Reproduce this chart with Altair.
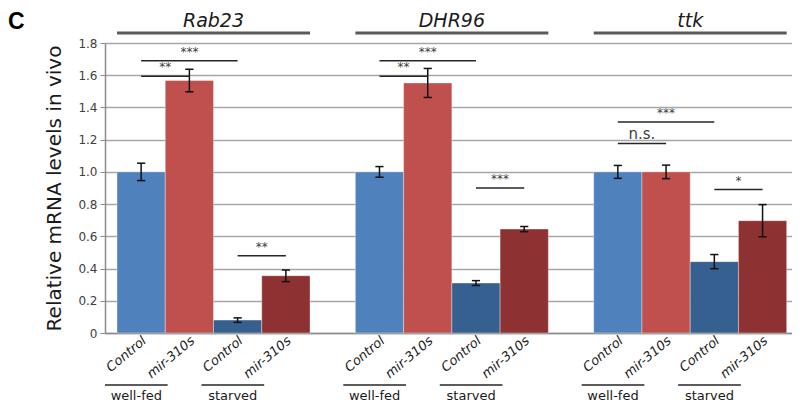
import altair as alt
import pandas as pd

# ---------------- data ----------------
genes = ["Rab23", "DHR96", "ttk"]
genotypes = ["Control", "mir-310s", "Control", "mir-310s"]
diets = ["well-fed", "well-fed", "starved", "starved"]
bar_types = ["well-fed Control", "well-fed mir-310s", "starved Control", "starved mir-310s"]
bar_colors = ["#4F81BD", "#C0504D", "#35608F", "#8E3133"]

rab23_values = [1.00, 1.567, 0.080, 0.355]
dhr96_values = [1.00, 1.552, 0.310, 0.645]
ttk_values = [1.00, 1.00, 0.443, 0.697]

rab23_errors = [0.054, 0.070, 0.014, 0.036]
dhr96_errors = [0.033, 0.090, 0.015, 0.016]
ttk_errors = [0.040, 0.042, 0.044, 0.100]

sig_gene = ["Rab23", "Rab23", "Rab23", "DHR96", "DHR96", "DHR96", "ttk", "ttk", "ttk"]
sig_from = [0, 0, 2, 0, 0, 2, 0, 0, 2]
sig_to = [1, 2, 3, 1, 2, 3, 1, 2, 3]
sig_level = [1.593, 1.69, 0.48, 1.593, 1.69, 0.90, 1.176, 1.31, 0.89]
sig_label = ["**", "***", "**", "**", "***", "***", "n.s.", "***", "*"]

y_ticks = [0, 0.2, 0.4, 0.6, 0.8, 1.0, 1.2, 1.4, 1.6, 1.8]

# ---------------- layout ----------------
STRIDE = 4.94          # group stride in bar widths
X_DOMAIN = [-0.749, 13.49]
W, H = 687, 290

vals = [rab23_values, dhr96_values, ttk_values]
errs = [rab23_errors, dhr96_errors, ttk_errors]

rows = []
for g, gene in enumerate(genes):
    for i in range(4):
        pos = g * STRIDE + i
        v, e = vals[g][i], errs[g][i]
        rows.append(dict(gene=gene, pos=pos, x0=pos - 0.5, x1=pos + 0.5,
                         value=v, lo=v - e, hi=v + e,
                         cx0=pos - 0.085, cx1=pos + 0.085,
                         btype=bar_types[i], geno=genotypes[i], labx=pos + 0.07))
bars = pd.DataFrame(rows)

grp = pd.DataFrame([dict(gene=gene, gx0=g * STRIDE - 0.5, gx1=g * STRIDE + 3.5,
                         gc=g * STRIDE + 1.5) for g, gene in enumerate(genes)])

diet_rows = []
for g, gene in enumerate(genes):
    for i in (0, 2):
        pos = g * STRIDE + i
        diet_rows.append(dict(diet=diets[i], dx0=pos - 0.75, dx1=pos + 0.55, dc=pos - 0.1))
dietdf = pd.DataFrame(diet_rows)

sig_rows = []
for gname, a, b, lv, lb in zip(sig_gene, sig_from, sig_to, sig_level, sig_label):
    g = genes.index(gname)
    xa, xb = g * STRIDE + a, g * STRIDE + b
    sig_rows.append(dict(xa=xa, xb=xb, mid=(xa + xb) / 2, level=lv, label=lb,
                         fs=15 if lb == "n.s." else 12))
sigdf = pd.DataFrame(sig_rows)

letter = pd.DataFrame({"t": ["C"]})

# ---------------- scales / axes ----------------
xs = alt.Scale(domain=X_DOMAIN, nice=False, zero=False)
ys = alt.Scale(domain=[0, 1.8], nice=False)
xax = alt.Axis(labels=False, ticks=False, grid=False, title=None,
               domainColor="#8C8C8C", domainWidth=1.5)
yax = alt.Axis(values=y_ticks, grid=True, gridColor="#A6A6A6", gridWidth=1.3,
               domainColor="#8C8C8C", domainWidth=1.5, tickColor="#8C8C8C",
               tickSize=5, labelFontSize=12, labelColor="#404040", labelPadding=3,
               labelExpr="datum.value == 0 ? '0' : format(datum.value, '.1f')",
               title="Relative mRNA levels in vivo", titleFontSize=20,
               titleFontWeight="normal", titleColor="#1A1A1A", titlePadding=13)

base_bars = alt.Chart(bars)

bar_layer = base_bars.mark_bar(stroke="#FFFFFF", strokeWidth=0.6, strokeOpacity=0.6).encode(
    x=alt.X("x0:Q", scale=xs, axis=xax),
    x2="x1:Q",
    y=alt.Y("value:Q", scale=ys, axis=yax),
    y2=alt.datum(0),
    color=alt.Color("btype:N", scale=alt.Scale(domain=bar_types, range=bar_colors), legend=None),
)

err_layer = base_bars.mark_rule(color="#111111", strokeWidth=1.5).encode(
    x=alt.X("pos:Q", scale=xs, axis=xax), y=alt.Y("lo:Q", scale=ys, axis=yax), y2="hi:Q")
cap_lo = base_bars.mark_rule(color="#111111", strokeWidth=1.5).encode(
    x=alt.X("cx0:Q", scale=xs, axis=xax), x2="cx1:Q", y=alt.Y("lo:Q", scale=ys, axis=yax))
cap_hi = base_bars.mark_rule(color="#111111", strokeWidth=1.5).encode(
    x=alt.X("cx0:Q", scale=xs, axis=xax), x2="cx1:Q", y=alt.Y("hi:Q", scale=ys, axis=yax))

sig_lines = alt.Chart(sigdf).mark_rule(color="#262626", strokeWidth=1.5).encode(
    x=alt.X("xa:Q", scale=xs, axis=xax), x2="xb:Q", y=alt.Y("level:Q", scale=ys, axis=yax))
sig_text = alt.Chart(sigdf).mark_text(baseline="bottom", dy=-2, color="#404040").encode(
    x=alt.X("mid:Q", scale=xs, axis=xax), y=alt.Y("level:Q", scale=ys, axis=yax),
    text="label:N", size=alt.Size("fs:Q", scale=None))

gene_lines = alt.Chart(grp).mark_rule(color="#5A5A5A", strokeWidth=3).encode(
    x=alt.X("gx0:Q", scale=xs, axis=xax), x2="gx1:Q", y=alt.value(-10))
gene_text = alt.Chart(grp).mark_text(fontSize=19, fontStyle="italic", color="#1A1A1A",
                                     baseline="alphabetic").encode(
    x=alt.X("gc:Q", scale=xs, axis=xax), y=alt.value(-16), text="gene:N")

bar_labels = base_bars.mark_text(angle=320, align="right", baseline="middle", fontSize=13,
                                 fontStyle="italic", color="#1A1A1A").encode(
    x=alt.X("labx:Q", scale=xs, axis=xax), y=alt.value(296), text="geno:N")

diet_lines = alt.Chart(dietdf).mark_rule(color="#262626", strokeWidth=1.5).encode(
    x=alt.X("dx0:Q", scale=xs, axis=xax), x2="dx1:Q", y=alt.value(342))
diet_text = alt.Chart(dietdf).mark_text(fontSize=13, color="#1A1A1A", baseline="middle").encode(
    x=alt.X("dc:Q", scale=xs, axis=xax), y=alt.value(353), text="diet:N")

letter_layer = alt.Chart(letter).mark_text(fontSize=23, fontWeight="bold", font="Liberation Sans",
                                           align="left", baseline="middle", color="#000000").encode(
    x=alt.value(-97), y=alt.value(-21), text="t:N")

chart = alt.layer(
    bar_layer, err_layer, cap_lo, cap_hi, sig_lines, sig_text,
    gene_lines, gene_text, bar_labels, diet_lines, diet_text, letter_layer,
).properties(
    width=W, height=H,
    autosize=alt.AutoSizeParams(type="none"),
    padding={"left": 97, "top": 35, "right": 0, "bottom": 71},
).configure(font="DejaVu Sans").configure_view(stroke=None)

chart.save("out.html", embed_options={"renderer": "svg", "actions": False})
